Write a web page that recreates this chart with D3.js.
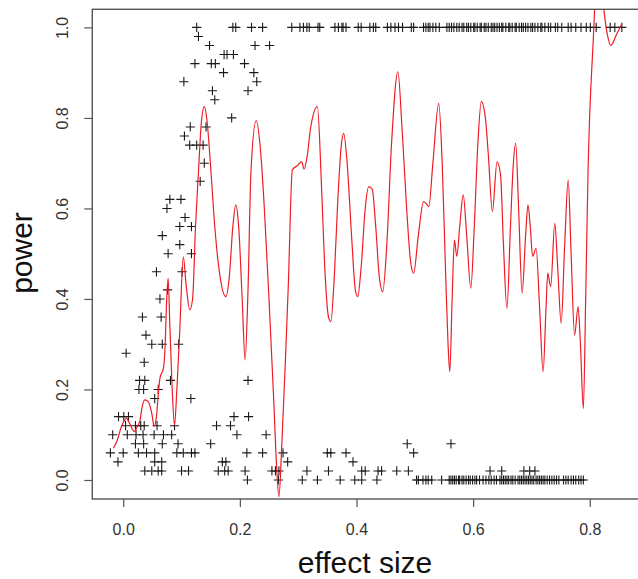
<!DOCTYPE html>
<html><head><meta charset="utf-8">
<script src="https://cdn.jsdelivr.net/npm/d3@7/dist/d3.min.js"></script>
<style>body{margin:0;background:#fff}svg{display:block}</style>
</head><body>
<svg id="c" width="638" height="579"></svg>
<script>
// ---- data ----
const xTicks = [0, 0.2, 0.4, 0.6, 0.8];
const yTicks = [0, 0.2, 0.4, 0.6, 0.8, 1.0];
const xTitle = "effect size";
const yTitle = "power";

// simulated power levels (y) and the effect sizes (x) observed at each level
const powerLevels = [1.00, 0.98, 0.96, 0.94, 0.92, 0.90, 0.88, 0.86, 0.84, 0.80, 0.78, 0.76, 0.74, 0.70, 0.66,
  0.62, 0.60, 0.58, 0.56, 0.54, 0.52, 0.50, 0.46, 0.42, 0.40, 0.36, 0.32, 0.30, 0.28, 0.26, 0.22, 0.20, 0.18,
  0.14, 0.12, 0.10, 0.08, 0.06, 0.04, 0.02, 0.00];
const effectByLevel = [
  [0.126, 0.188, 0.193, 0.220, 0.239, 0.289, 0.303, 0.309, 0.315, 0.319, 0.334, 0.337, 0.363, 0.369, 0.375, 0.377,
   0.382, 0.403, 0.408, 0.423, 0.429, 0.433, 0.453, 0.459, 0.466, 0.472, 0.479, 0.494, 0.498, 0.515, 0.519, 0.523,
   0.526, 0.531, 0.536, 0.542, 0.555, 0.559, 0.563, 0.567, 0.572, 0.576, 0.581, 0.584, 0.589, 0.592, 0.596, 0.601,
   0.603, 0.607, 0.612, 0.614, 0.619, 0.622, 0.626, 0.631, 0.634, 0.637, 0.641, 0.645, 0.649, 0.651, 0.656, 0.661,
   0.663, 0.667, 0.672, 0.674, 0.679, 0.683, 0.686, 0.690, 0.694, 0.699, 0.702, 0.706, 0.711, 0.716, 0.718, 0.723,
   0.729, 0.733, 0.741, 0.745, 0.752, 0.763, 0.768, 0.776, 0.785, 0.794, 0.801, 0.811, 0.835, 0.843, 0.855],
  [0.129],
  [0.148, 0.226, 0.251],
  [0.173, 0.178, 0.189],
  [0.123, 0.151, 0.158, 0.208],
  [0.172, 0.224],
  [0.104, 0.229],
  [0.153, 0.214],
  [0.157],
  [0.186],
  [0.115, 0.142],
  [0.105],
  [0.114, 0.126, 0.137],
  [0.139],
  [0.132],
  [0.080, 0.099],
  [0.075],
  [0.106],
  [0.097, 0.117],
  [0.067],
  [0.097],
  [0.077, 0.117],
  [0.057, 0.101],
  [0.076],
  [0.063],
  [0.033, 0.065],
  [0.039],
  [0.049, 0.067, 0.095],
  [0.005],
  [0.036],
  [0.028, 0.037, 0.081, 0.214],
  [0.027, 0.035, 0.060],
  [0.054, 0.116],
  [-0.008, 0.001, 0.009, 0.190, 0.215],
  [0.004, 0.021, 0.030, 0.036, 0.058, 0.088, 0.160, 0.184],
  [-0.018, 0.007, 0.022, 0.034, 0.053, 0.069, 0.083, 0.195, 0.245],
  [0.021, 0.035, 0.067, 0.094, 0.150, 0.487, 0.562],
  [-0.022, 0.000, 0.026, 0.040, 0.054, 0.092, 0.103, 0.117, 0.123, 0.212, 0.239, 0.274, 0.350, 0.356, 0.382, 0.498],
  [-0.009, 0.054, 0.066, 0.170, 0.176, 0.282, 0.394],
  [0.037, 0.049, 0.060, 0.066, 0.100, 0.112, 0.163, 0.174, 0.180, 0.209, 0.255, 0.261, 0.267, 0.315, 0.352, 0.409,
   0.415, 0.437, 0.443, 0.469, 0.489, 0.629, 0.649, 0.687, 0.697, 0.706],
  [0.213, 0.266, 0.307, 0.333, 0.372, 0.397, 0.409, 0.435, 0.503, 0.506, 0.514, 0.519, 0.523, 0.529, 0.546, 0.559,
   0.562, 0.565, 0.568, 0.571, 0.575, 0.577, 0.581, 0.584, 0.588, 0.592, 0.595, 0.599, 0.603, 0.606, 0.611, 0.617,
   0.622, 0.627, 0.631, 0.636, 0.640, 0.646, 0.649, 0.652, 0.655, 0.658, 0.661, 0.665, 0.668, 0.672, 0.677, 0.680,
   0.683, 0.686, 0.689, 0.692, 0.695, 0.698, 0.701, 0.704, 0.708, 0.711, 0.714, 0.717, 0.720, 0.723, 0.727, 0.731,
   0.735, 0.739, 0.743, 0.747, 0.755, 0.759, 0.763, 0.768, 0.772, 0.776, 0.781, 0.785, 0.789]
];

// smoothed power curve (red line)
const curveX = [-0.017, -0.011, -0.003, 0.006, 0.011, 0.019, 0.023, 0.029, 0.032, 0.037, 0.043, 0.049, 0.053, 0.057,
  0.060, 0.063, 0.069, 0.072, 0.074, 0.077, 0.080, 0.084, 0.088, 0.092, 0.097, 0.103, 0.108, 0.114, 0.119, 0.124,
  0.129, 0.134, 0.139, 0.144, 0.150, 0.157, 0.166, 0.176, 0.182, 0.188, 0.193, 0.198, 0.204, 0.209, 0.214, 0.219,
  0.228, 0.236, 0.242, 0.250, 0.258, 0.263, 0.267, 0.272, 0.278, 0.283, 0.290, 0.299, 0.306, 0.310, 0.316, 0.321,
  0.333, 0.340, 0.346, 0.352, 0.356, 0.362, 0.368, 0.374, 0.378, 0.384, 0.392, 0.398, 0.402, 0.408, 0.415, 0.421,
  0.427, 0.433, 0.439, 0.445, 0.452, 0.460, 0.471, 0.478, 0.486, 0.493, 0.498, 0.506, 0.515, 0.520, 0.524, 0.531,
  0.541, 0.547, 0.553, 0.557, 0.560, 0.564, 0.568, 0.572, 0.577, 0.583, 0.589, 0.596, 0.602, 0.608, 0.614, 0.621,
  0.626, 0.633, 0.641, 0.647, 0.652, 0.658, 0.664, 0.669, 0.673, 0.678, 0.684, 0.690, 0.694, 0.698, 0.702, 0.708,
  0.714, 0.720, 0.725, 0.728, 0.733, 0.740, 0.745, 0.751, 0.757, 0.763, 0.768, 0.774, 0.780, 0.784, 0.789, 0.793,
  0.797, 0.806, 0.814, 0.823, 0.830, 0.836, 0.846, 0.855];
const curveY = [0.070, 0.085, 0.118, 0.136, 0.125, 0.107, 0.115, 0.133, 0.158, 0.177, 0.173, 0.147, 0.119, 0.140,
  0.188, 0.225, 0.247, 0.300, 0.380, 0.446, 0.340, 0.200, 0.122, 0.200, 0.331, 0.493, 0.430, 0.376, 0.400, 0.560,
  0.680, 0.790, 0.825, 0.790, 0.690, 0.560, 0.450, 0.405, 0.450, 0.560, 0.608, 0.560, 0.400, 0.265, 0.420, 0.680,
  0.794, 0.720, 0.600, 0.400, 0.180, 0.030, -0.037, 0.080, 0.260, 0.427, 0.685, 0.695, 0.703, 0.687, 0.720, 0.775,
  0.825, 0.650, 0.460, 0.360, 0.350, 0.450, 0.620, 0.740, 0.766, 0.700, 0.530, 0.420, 0.405, 0.470, 0.600, 0.648,
  0.642, 0.560, 0.450, 0.416, 0.520, 0.740, 0.902, 0.780, 0.600, 0.480, 0.457, 0.540, 0.615, 0.610, 0.604, 0.700,
  0.832, 0.700, 0.450, 0.300, 0.239, 0.400, 0.530, 0.494, 0.560, 0.630, 0.540, 0.424, 0.560, 0.740, 0.836, 0.800,
  0.720, 0.593, 0.703, 0.674, 0.520, 0.379, 0.560, 0.700, 0.744, 0.600, 0.413, 0.540, 0.608, 0.560, 0.494, 0.512,
  0.380, 0.239, 0.380, 0.457, 0.427, 0.567, 0.470, 0.346, 0.520, 0.663, 0.500, 0.320, 0.383, 0.300, 0.158, 0.400,
  0.678, 0.972, 1.150, 1.050, 0.985, 0.960, 0.985, 1.008];

// ---- drawing ----
const svg = d3.select("#c");
const font = "'Liberation Sans', Arial, Helvetica, sans-serif";
const x = d3.scaleLinear().domain([-0.053, 0.893]).range([92.3, 644]);
const y = d3.scaleLinear().domain([-0.042, 1.04]).range([499, 9.3]);

const points = [];
powerLevels.forEach((p, i) => effectByLevel[i].forEach(e => points.push({x: e, y: p})));
const curve = curveX.map((v, i) => ({x: v, y: curveY[i]}));

svg.append("defs").append("clipPath").attr("id", "plotclip")
  .append("rect").attr("x", 92.3).attr("y", 9.3).attr("width", 644 - 92.3).attr("height", 499 - 9.3);

// points (pch = 3)
svg.append("g").selectAll("path").data(points).join("path")
  .attr("transform", d => `translate(${x(d.x)},${y(d.y)})`)
  .attr("d", "M-4.6,0H4.6M0,-4.6V4.6")
  .attr("stroke", "#1a1a1a").attr("stroke-width", 1.1).attr("fill", "none");

// curve
svg.append("path").datum(curve)
  .attr("clip-path", "url(#plotclip)")
  .attr("d", d3.line().x(d => x(d.x)).y(d => y(d.y)).curve(d3.curveMonotoneX))
  .attr("fill", "none").attr("stroke", "#ee1c25").attr("stroke-width", 1.2);

// box
svg.append("rect").attr("x", 92.3).attr("y", 9.3).attr("width", 644 - 92.3).attr("height", 499 - 9.3)
  .attr("fill", "none").attr("stroke", "#555").attr("stroke-width", 1.4);

// x axis
const xa = svg.append("g").attr("transform", "translate(0,499)")
  .call(d3.axisBottom(x).tickValues(xTicks).tickFormat(d3.format(".1f")).tickSize(8).tickSizeOuter(0));
xa.select(".domain").remove();
xa.selectAll("line").attr("stroke", "#555").attr("stroke-width", 1.2);
xa.selectAll("text").attr("font-family", font).attr("font-size", 16).attr("fill", "#333")
  .attr("y", 36).attr("dy", 0);

// y axis
const ya = svg.append("g").attr("transform", "translate(92.3,0)")
  .call(d3.axisLeft(y).tickValues(yTicks).tickFormat(d3.format(".1f")).tickSize(8).tickSizeOuter(0));
ya.select(".domain").remove();
ya.selectAll("line").attr("stroke", "#555").attr("stroke-width", 1.2);
ya.selectAll("text").attr("font-family", font).attr("font-size", 16).attr("fill", "#333")
  .attr("x", null).attr("dy", 0).attr("text-anchor", "middle")
  .attr("transform", "translate(-24,0) rotate(-90)");

// titles
svg.append("text").attr("x", 365).attr("y", 573).attr("text-anchor", "middle")
  .attr("font-family", font).attr("font-size", 30).attr("fill", "#111").text(xTitle);
svg.append("text").attr("transform", "translate(32,253) rotate(-90)").attr("text-anchor", "middle")
  .attr("font-family", font).attr("font-size", 30).attr("fill", "#111").text(yTitle);
</script>
</body></html>
